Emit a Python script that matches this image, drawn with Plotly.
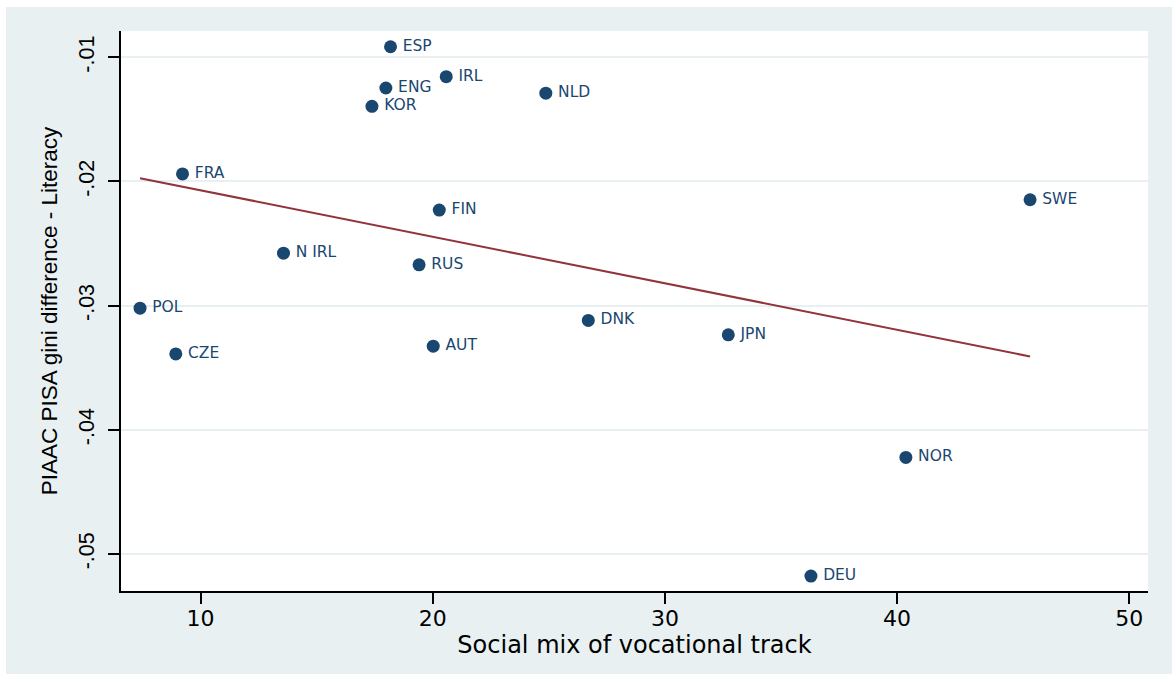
import numpy as np
import plotly.graph_objects as go

# Country codes and their values
countries = ["ESP", "IRL", "ENG", "KOR", "NLD", "FRA", "FIN", "N IRL", "RUS",
             "POL", "CZE", "AUT", "DNK", "JPN", "NOR", "DEU", "SWE"]
social_mix = [18.18, 20.58, 17.98, 17.38, 24.87, 9.22, 20.28, 13.57, 19.41,
              7.39, 8.93, 20.02, 26.70, 32.73, 40.38, 36.29, 45.73]
gini_diff = [-0.00915, -0.01156, -0.01247, -0.01395, -0.01289, -0.01939, -0.02230,
             -0.02577, -0.02671, -0.03020, -0.03389, -0.03326, -0.03119, -0.03235,
             -0.04222, -0.05178, -0.02147]

x_ticks = [10, 20, 30, 40, 50]
y_ticks = [-0.05, -0.04, -0.03, -0.02, -0.01]
y_tick_text = ["-.05", "-.04", "-.03", "-.02", "-.01"]

NAVY = "#1a476f"
MAROON = "#90353b"
REGION = "#e9f0f2"

W, H = 1172, 674
ML, MR, MT, MB = 121, 24, 31, 83

# Linear fit over the observed x range
slope, intercept = np.polyfit(social_mix, gini_diff, 1)
fit_x = np.array([min(social_mix), max(social_mix)])
fit_y = slope * fit_x + intercept

fig = go.Figure()
fig.add_trace(go.Scatter(
    x=social_mix, y=gini_diff, mode="markers+text",
    text=["\u2009" + c for c in countries], textposition="middle right",
    textfont=dict(family="DejaVu Sans", size=15.5, color=NAVY),
    marker=dict(color=NAVY, size=13, line=dict(width=0)),
    hoverinfo="skip", cliponaxis=False,
))
fig.add_trace(go.Scatter(
    x=fit_x, y=fit_y, mode="lines",
    line=dict(color=MAROON, width=2),
    hoverinfo="skip",
))

# White page edge around the graph region (left and top)
pw, ph = W - ML - MR, H - MT - MB
x0p = -ML / pw
y1p = 1 + MT / ph
fig.add_shape(type="rect", xref="paper", yref="paper", layer="above",
              x0=x0p, x1=x0p + 6 / pw, y0=-MB / ph, y1=y1p,
              fillcolor="white", line=dict(width=0))
fig.add_shape(type="rect", xref="paper", yref="paper", layer="above",
              x0=x0p, x1=1 + MR / pw, y0=y1p - 7 / ph, y1=y1p,
              fillcolor="white", line=dict(width=0))

fig.update_layout(
    width=W, height=H,
    margin=dict(l=ML, r=MR, t=MT, b=MB, pad=0),
    paper_bgcolor=REGION, plot_bgcolor="white",
    showlegend=False,
    xaxis=dict(
        range=[6.57, 50.81], tickvals=x_ticks,
        ticks="outside", ticklen=11, tickwidth=2, tickcolor="black",
        ticklabelstandoff=-4,
        showline=True, linecolor="black", linewidth=2,
        showgrid=False, zeroline=False,
        tickfont=dict(family="DejaVu Sans", size=22, color="black"),
        title=dict(text="Social mix of vocational track", standoff=0,
                   font=dict(family="DejaVu Sans", size=24, color="black")),
    ),
    yaxis=dict(
        range=[-0.05298, -0.00788], tickvals=y_ticks, ticktext=y_tick_text,
        tickangle=-90,
        ticks="outside", ticklen=11, tickwidth=2, tickcolor="black",
        ticklabelstandoff=5,
        showline=True, linecolor="black", linewidth=2,
        showgrid=True, gridcolor=REGION, gridwidth=2, zeroline=False,
        tickfont=dict(family="Liberation Sans", size=21.5, color="black"),
        title=dict(text="PIAAC PISA gini difference - Literacy", standoff=12,
                   font=dict(family="Liberation Sans", size=22.5, color="black")),
    ),
)

fig.write_html("out.html")
